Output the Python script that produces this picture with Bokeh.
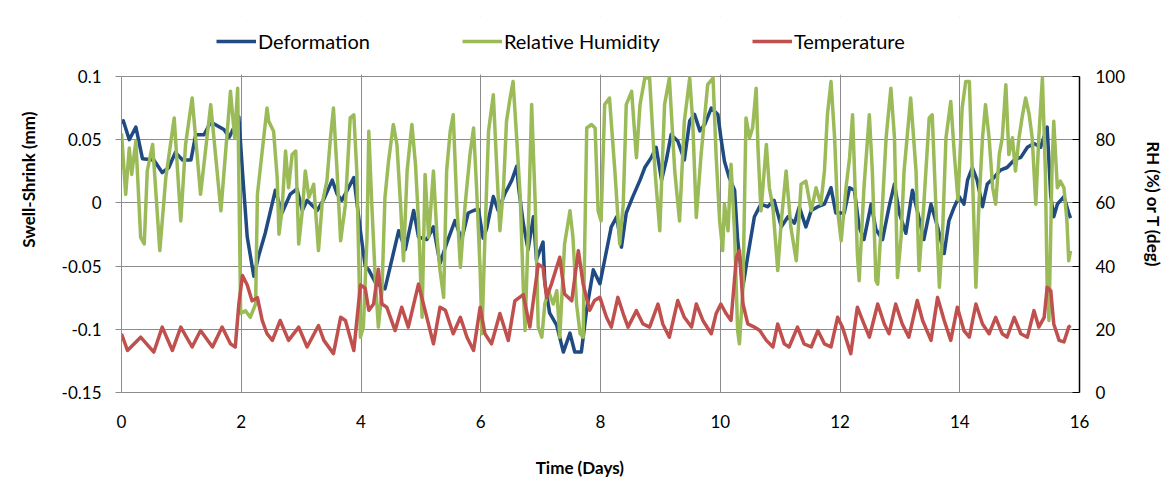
from bokeh.plotting import figure
from bokeh.models import (Range1d, LinearAxis, FixedTicker, PrintfTickFormatter,
                          Legend, LegendItem, BoxAnnotation)
from bokeh.embed import file_html
from bokeh.resources import INLINE

# ---- data ----
def_t = [0.00, 0.03, 0.13, 0.24, 0.35, 0.54, 0.68, 0.79, 0.90, 1.02, 1.16, 1.24, 1.38, 1.49,
         1.71, 1.80, 1.96, 2.02, 2.10, 2.21, 2.29, 2.40, 2.52, 2.57, 2.68, 2.82, 2.93, 3.02,
         3.10, 3.27, 3.38, 3.52, 3.60, 3.68, 3.77, 3.88, 3.99, 4.07, 4.13, 4.24, 4.40, 4.63,
         4.74, 4.88, 4.96, 5.10, 5.21, 5.32, 5.43, 5.57, 5.68, 5.79, 5.88, 5.96, 6.04, 6.10,
         6.21, 6.29, 6.40, 6.52, 6.60, 6.63, 6.71, 6.79, 6.88, 6.93, 7.04, 7.07, 7.15, 7.27,
         7.38, 7.49, 7.57, 7.68, 7.77, 7.88, 7.99, 8.07, 8.18, 8.27, 8.35, 8.43, 8.54, 8.66,
         8.74, 8.85, 8.93, 9.02, 9.10, 9.18, 9.29, 9.40, 9.49, 9.57, 9.66, 9.74, 9.85, 9.96,
         10.01, 10.07, 10.15, 10.24, 10.29, 10.38, 10.46, 10.57, 10.68, 10.79, 10.90, 11.02,
         11.13, 11.24, 11.32, 11.43, 11.52, 11.63, 11.74, 11.85, 11.93, 12.07, 12.16, 12.24,
         12.32, 12.40, 12.52, 12.60, 12.71, 12.82, 12.91, 12.99, 13.10, 13.21, 13.29, 13.40,
         13.52, 13.63, 13.74, 13.82, 13.91, 13.99, 14.07, 14.13, 14.21, 14.29, 14.38, 14.46,
         14.57, 14.68, 14.79, 14.91, 15.02, 15.13, 15.24, 15.35, 15.46, 15.52, 15.57, 15.63,
         15.74, 15.82, 15.85]
def_v = [0.063, 0.065, 0.050, 0.060, 0.035, 0.034, 0.024, 0.028, 0.040, 0.034, 0.034, 0.054,
         0.054, 0.064, 0.058, 0.052, 0.068, 0.025, -0.027, -0.058, -0.042, -0.024, 0.000, 0.010,
         -0.008, 0.007, 0.011, -0.006, 0.002, -0.006, 0.003, 0.018, 0.007, 0.002, 0.010, 0.020,
         -0.022, -0.050, -0.053, -0.063, -0.068, -0.022, -0.037, -0.006, -0.027, -0.029, -0.019,
         -0.048, -0.032, -0.014, -0.029, -0.008, -0.006, -0.005, -0.028, -0.020, 0.005, -0.006,
         0.007, 0.018, 0.029, 0.013, -0.016, -0.037, -0.011, -0.045, -0.031, -0.063, -0.087,
         -0.097, -0.118, -0.103, -0.118, -0.118, -0.084, -0.053, -0.064, -0.045, -0.019, -0.011,
         -0.035, -0.008, 0.005, 0.018, 0.028, 0.036, 0.044, 0.018, 0.034, 0.054, 0.049, 0.034,
         0.065, 0.070, 0.057, 0.062, 0.075, 0.070, 0.052, 0.033, 0.020, 0.010, -0.029, -0.066,
         -0.042, -0.011, -0.001, -0.003, 0.002, -0.019, -0.011, -0.016, -0.003, -0.019, -0.006,
         -0.003, -0.001, 0.012, -0.008, -0.008, 0.012, 0.010, -0.019, -0.029, -0.001, -0.021,
         -0.029, -0.003, 0.015, -0.008, -0.024, 0.010, -0.006, -0.029, -0.001, -0.019, -0.040,
         -0.014, -0.003, 0.005, -0.001, 0.018, 0.028, 0.018, -0.003, 0.015, 0.020, 0.026, 0.028,
         0.034, 0.036, 0.044, 0.047, 0.044, 0.060, 0.005, -0.011, -0.001, 0.005, -0.008, -0.012]

rh_t = [0.00, 0.07, 0.13, 0.17, 0.24, 0.32, 0.38, 0.43, 0.52, 0.64, 0.74, 0.88, 0.99, 1.07,
        1.18, 1.32, 1.49, 1.66, 1.82, 1.89, 1.94, 1.99, 2.07, 2.15, 2.24, 2.27, 2.43, 2.46,
        2.54, 2.60, 2.63, 2.68, 2.74, 2.79, 2.85, 2.91, 2.96, 3.02, 3.07, 3.13, 3.21, 3.29,
        3.35, 3.43, 3.49, 3.54, 3.60, 3.66, 3.74, 3.82, 3.88, 3.93, 3.99, 4.04, 4.10, 4.13,
        4.18, 4.24, 4.29, 4.35, 4.40, 4.46, 4.54, 4.60, 4.66, 4.71, 4.77, 4.85, 4.91, 4.96,
        5.02, 5.07, 5.13, 5.21, 5.27, 5.32, 5.38, 5.43, 5.49, 5.54, 5.60, 5.66, 5.74, 5.82,
        5.88, 5.93, 5.99, 6.02, 6.07, 6.13, 6.21, 6.27, 6.32, 6.38, 6.43, 6.49, 6.54, 6.60,
        6.66, 6.71, 6.74, 6.79, 6.85, 6.91, 6.96, 7.02, 7.07, 7.13, 7.21, 7.27, 7.32, 7.40,
        7.49, 7.54, 7.60, 7.66, 7.71, 7.77, 7.85, 7.91, 7.96, 8.01, 8.07, 8.15, 8.24, 8.32,
        8.38, 8.43, 8.52, 8.60, 8.66, 8.74, 8.82, 8.91, 8.99, 9.07, 9.15, 9.24, 9.32, 9.40,
        9.49, 9.54, 9.60, 9.68, 9.79, 9.88, 9.93, 9.99, 10.04, 10.07, 10.13, 10.18, 10.24,
        10.29, 10.32, 10.38, 10.43, 10.49, 10.54, 10.60, 10.63, 10.68, 10.77, 10.82, 10.88,
        10.96, 11.02, 11.10, 11.18, 11.27, 11.35, 11.43, 11.52, 11.60, 11.68, 11.74, 11.79,
        11.85, 11.91, 11.96, 12.02, 12.10, 12.16, 12.21, 12.29, 12.32, 12.40, 12.49, 12.54,
        12.60, 12.63, 12.71, 12.77, 12.85, 12.91, 12.96, 13.02, 13.07, 13.18, 13.27, 13.32,
        13.40, 13.49, 13.54, 13.60, 13.66, 13.71, 13.77, 13.85, 13.91, 13.97, 14.04, 14.10,
        14.16, 14.21, 14.27, 14.32, 14.38, 14.43, 14.49, 14.55, 14.60, 14.66, 14.71, 14.77,
        14.82, 14.88, 14.93, 14.99, 15.04, 15.10, 15.16, 15.21, 15.27, 15.32, 15.38, 15.43,
        15.46, 15.49, 15.54, 15.57, 15.63, 15.68, 15.74, 15.79, 15.82, 15.85]
rh_v = [82.0, 62.7, 77.4, 69.0, 79.5, 49.1, 47.0, 70.1, 78.5, 44.9, 68.0, 86.9, 54.3, 78.5,
        93.2, 62.7, 91.1, 57.5, 95.3, 80.6, 96.3, 25.0, 25.9, 23.8, 28.0, 62.7, 90.0, 85.8,
        82.7, 68.0, 50.1, 57.5, 76.4, 64.8, 75.3, 76.4, 47.0, 57.5, 70.1, 61.7, 65.9, 44.9,
        59.6, 66.9, 80.6, 90.0, 70.1, 48.0, 59.6, 86.9, 87.9, 70.1, 17.5, 20.7, 49.1, 82.7,
        59.6, 35.4, 20.7, 32.2, 61.7, 73.2, 84.8, 78.5, 59.6, 41.7, 70.1, 84.8, 72.2, 54.3,
        23.8, 69.0, 49.1, 70.1, 49.1, 38.6, 30.1, 70.1, 82.7, 87.9, 59.6, 39.6, 59.6, 75.3,
        83.7, 64.8, 38.6, 18.6, 49.1, 82.7, 94.2, 70.1, 51.2, 64.8, 85.8, 93.2, 98.4, 80.6,
        61.7, 33.3, 19.6, 49.1, 91.1, 59.6, 20.7, 17.5, 28.0, 32.2, 28.0, 32.2, 17.5, 47.0,
        57.5, 49.1, 28.0, 18.6, 17.5, 83.7, 84.8, 83.7, 57.5, 54.3, 91.1, 93.2, 70.1, 47.0,
        59.6, 91.1, 95.3, 74.3, 91.1, 99.5, 99.5, 70.1, 51.2, 91.1, 99.5, 70.1, 54.3, 85.8,
        99.5, 85.8, 55.4, 75.3, 97.4, 99.5, 75.3, 54.3, 44.9, 59.6, 51.2, 72.2, 50.1,
        19.6, 15.4, 33.3, 86.9, 80.6, 83.7, 96.3, 77.4, 57.5, 78.5, 64.8, 58.5,
        38.6, 54.3, 70.1, 52.2, 41.7, 65.9, 66.9, 57.5, 64.8, 59.6, 70.1, 87.9,
        98.4, 80.6, 57.5, 48.0, 64.8, 74.3, 87.9, 43.8, 35.4, 64.8, 87.9, 70.1,
        35.4, 34.3, 59.6, 80.6, 96.3, 80.6, 36.4, 49.1, 70.1, 93.2, 70.1, 38.6,
        59.6, 86.9, 87.9, 59.6, 33.3, 49.1, 80.6, 92.1, 75.3, 61.0, 90.0, 98.4,
        98.4, 70.1, 33.3, 59.6, 80.6, 91.1, 80.6, 64.8, 59.6, 75.3, 80.6, 97.4,
        75.3, 80.6, 70.1, 80.6, 86.9, 93.2, 87.9, 80.6, 59.6, 80.6, 99.5, 70.1,
        33.3, 22.8, 70.1, 85.8, 64.8, 66.9, 64.8, 54.3, 41.7, 44.9]

temp_t = [0.00, 0.10, 0.32, 0.54, 0.68, 0.85, 0.99, 1.18, 1.32, 1.52, 1.68, 1.82, 1.90, 1.96,
          2.02, 2.10, 2.18, 2.27, 2.35, 2.43, 2.52, 2.65, 2.79, 2.96, 3.10, 3.29, 3.38, 3.54,
          3.66, 3.74, 3.88, 3.99, 4.07, 4.13, 4.21, 4.29, 4.35, 4.43, 4.57, 4.68, 4.79, 4.96,
          5.07, 5.21, 5.32, 5.41, 5.54, 5.66, 5.77, 5.88, 5.99, 6.07, 6.18, 6.32, 6.46, 6.57,
          6.71, 6.82, 6.96, 7.04, 7.10, 7.18, 7.32, 7.40, 7.52, 7.63, 7.71, 7.82, 7.90, 7.99,
          8.10, 8.18, 8.29, 8.38, 8.46, 8.60, 8.71, 8.82, 8.96, 9.04, 9.15, 9.29, 9.40, 9.52,
          9.60, 9.71, 9.85, 9.93, 10.01, 10.10, 10.18, 10.27, 10.32, 10.38, 10.46, 10.57,
          10.66, 10.77, 10.88, 10.96, 11.07, 11.15, 11.29, 11.40, 11.52, 11.63, 11.74, 11.85,
          11.96, 12.04, 12.18, 12.29, 12.40, 12.49, 12.63, 12.74, 12.82, 12.93, 13.04, 13.15,
          13.29, 13.38, 13.52, 13.63, 13.74, 13.85, 13.96, 14.07, 14.16, 14.27, 14.38, 14.49,
          14.60, 14.71, 14.79, 14.91, 15.02, 15.13, 15.24, 15.32, 15.41, 15.46, 15.52, 15.57,
          15.66, 15.74, 15.82, 15.85]
temp_v = [18.6, 13.3, 17.5, 12.8, 20.7, 13.3, 20.7, 14.4, 19.6, 14.4, 20.7, 15.4, 14.4, 28.0,
          37.0, 34.0, 29.0, 30.0, 22.8, 18.6, 16.5, 22.8, 16.5, 20.7, 14.4, 21.2, 16.5, 12.3,
          23.8, 22.8, 13.3, 34.0, 33.0, 26.0, 28.0, 39.0, 28.0, 27.0, 19.6, 27.0, 20.7, 34.3,
          26.0, 15.4, 27.0, 26.0, 18.6, 23.8, 17.5, 13.3, 27.0, 18.6, 15.4, 25.0, 16.5, 29.0,
          31.0, 20.7, 40.6, 39.6, 30.0, 34.3, 42.8, 31.2, 29.0, 44.9, 34.3, 26.0, 29.1, 30.1,
          23.8, 20.7, 30.1, 24.9, 20.7, 25.9, 21.7, 20.7, 28.0, 21.7, 17.5, 29.1, 23.8, 20.7,
          28.0, 22.8, 18.6, 24.9, 28.0, 24.9, 22.8, 42.8, 44.9, 28.0, 21.7, 20.7,
          19.6, 16.5, 14.4, 21.7, 15.4, 14.4, 20.7, 15.4, 14.4, 19.6, 15.4, 14.4,
          23.8, 20.7, 12.3, 27.0, 21.7, 17.5, 28.0, 21.7, 18.6, 28.0, 21.7, 17.5,
          29.1, 22.8, 16.5, 30.1, 22.8, 16.5, 27.0, 19.6, 17.5, 28.0, 21.7, 18.6,
          23.8, 18.6, 17.5, 23.8, 18.6, 17.5, 25.9, 20.7, 23.8, 33.3, 32.2, 21.7,
          16.5, 16.0, 20.7, 21.2]

x_ticks = [0, 2, 4, 6, 8, 10, 12, 14, 16]
left_ticks = [-0.15, -0.1, -0.05, 0, 0.05, 0.1]
right_ticks = [0, 20, 40, 60, 80, 100]

series_names = ["Deformation", "Relative Humidity", "Temperature"]
series_colors = ["#1F4A82", "#9BBB59", "#C0504D"]

FONT = "Lato"
GRID = "#8C8C8C"
NB = "\u00a0"

# layout: the frame is extended upward to hold the legend; axes are bounded to the data area
W, H = 1171, 493
FRAME_L, FRAME_R, FRAME_T, FRAME_B, PLOT_T = 121, 1079, 16, 392, 76
ext = (FRAME_B - FRAME_T) / (FRAME_B - PLOT_T)
left_top = -0.15 + 0.25 * ext
rh_top = 100.0 * ext

p = figure(width=W, height=H, output_backend="svg", toolbar_location=None,
           x_range=Range1d(0, 16), y_range=Range1d(-0.15, left_top),
           min_border_left=FRAME_L, min_border_right=W - FRAME_R,
           min_border_top=FRAME_T, min_border_bottom=H - FRAME_B)
p.extra_y_ranges = {"rh": Range1d(0, rh_top)}
p.outline_line_color = None
p.background_fill_color = "white"
p.border_fill_color = "white"

# grids
p.xgrid.ticker = FixedTicker(ticks=x_ticks)
p.ygrid.ticker = FixedTicker(ticks=left_ticks)
for g in (p.xgrid[0], p.ygrid[0]):
    g.grid_line_color = GRID
    g.grid_line_width = 1

# x axis
xa = p.xaxis[0]
xa.ticker = FixedTicker(ticks=x_ticks)
xa.axis_label = "Time (Days)" + NB * 10
xa.axis_line_color = GRID
xa.major_tick_line_color = None
xa.minor_tick_line_color = None
xa.major_label_standoff = 16
xa.axis_label_standoff = 26
xa.major_label_text_font = FONT
xa.major_label_text_font_size = "17px"
xa.major_label_text_color = "black"
xa.axis_label_text_font = FONT
xa.axis_label_text_font_size = "17px"
xa.axis_label_text_font_style = "bold"
xa.axis_label_text_color = "black"

# left axis
ya = p.yaxis[0]
ya.ticker = FixedTicker(ticks=left_ticks)
ya.bounds = (-0.15, 0.1)
ya.formatter = PrintfTickFormatter(format="%g")
ya.axis_label = NB * 12 + "Swell-Shrink (mm)"
ya.axis_line_color = GRID
ya.major_tick_line_color = GRID
ya.major_tick_in = 0
ya.major_tick_out = 6
ya.minor_tick_line_color = None
ya.major_label_standoff = 14
ya.axis_label_standoff = 20
ya.major_label_text_font = FONT
ya.major_label_text_font_size = "17px"
ya.major_label_text_color = "black"
ya.axis_label_text_font = FONT
ya.axis_label_text_font_size = "17px"
ya.axis_label_text_font_style = "bold"
ya.axis_label_text_color = "black"

# right axis
ra = LinearAxis(y_range_name="rh", ticker=FixedTicker(ticks=right_ticks),
                axis_label="RH (%) or T (deg)", bounds=(0, 100))
ra.axis_line_color = "black"
ra.axis_line_width = 1.5
ra.major_tick_line_color = "black"
ra.major_tick_in = 7
ra.major_tick_out = 0
ra.minor_tick_line_color = None
ra.major_label_standoff = 16
ra.axis_label_standoff = 15
ra.major_label_text_font = FONT
ra.major_label_text_font_size = "17px"
ra.major_label_text_color = "black"
ra.axis_label_text_font = FONT
ra.axis_label_text_font_size = "17px"
ra.axis_label_text_font_style = "bold"
ra.axis_label_text_color = "black"
try:
    ra.axis_label_orientation = "vertical"
except AttributeError:
    pass
p.add_layout(ra, "right")

# white cover above the data area (hides grid lines in the legend band)
p.add_layout(BoxAnnotation(bottom=0.1015, top=left_top + 0.05, fill_color="white",
                           fill_alpha=1.0, line_color=None, level="underlay"))

# series
r_def = p.line(def_t, def_v, line_color=series_colors[0], line_width=3.5, line_join="round")
r_rh = p.line(rh_t, rh_v, line_color=series_colors[1], line_width=3.5, line_join="round",
              y_range_name="rh")
r_tmp = p.line(temp_t, temp_v, line_color=series_colors[2], line_width=3.5, line_join="round",
               y_range_name="rh")

legend = Legend(items=[LegendItem(label=series_names[0], renderers=[r_def]),
                       LegendItem(label=series_names[1], renderers=[r_rh]),
                       LegendItem(label=series_names[2], renderers=[r_tmp])],
                orientation="horizontal", location=(95, 339),
                border_line_color=None, background_fill_alpha=0,
                glyph_width=40, glyph_height=20, label_standoff=2, spacing=92,
                padding=4, margin=0,
                label_text_font=FONT, label_text_font_size="20px", label_text_color="black")
p.add_layout(legend)

open("out.html", "w").write(file_html(p, INLINE))
